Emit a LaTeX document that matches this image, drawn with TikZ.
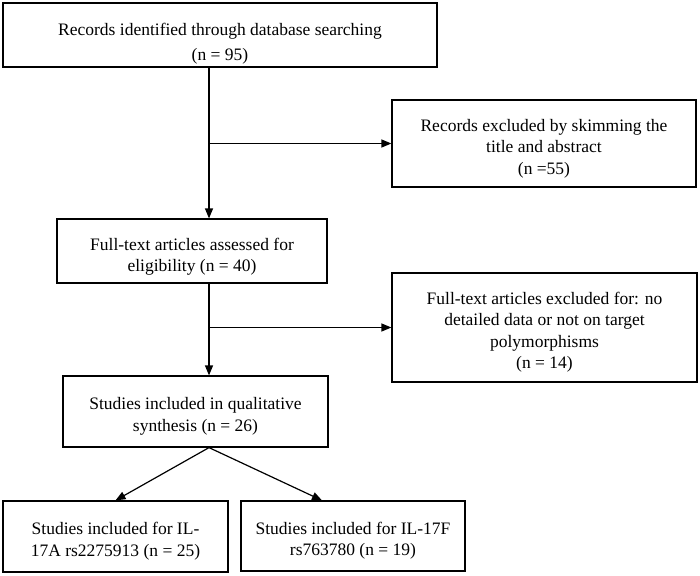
\documentclass[tikz,border=0pt]{standalone}
\usepackage{fontspec}
\setmainfont{Liberation Serif}
\usetikzlibrary{arrows.meta}
\newcommand\drop[1]{\rule{0pt}{#1}}

\begin{document}
\begin{tikzpicture}[x=1pt, y=-1pt, line width=1.2pt,
    >={Triangle[length=10pt,width=8pt]},
    box/.style={draw, align=center, inner sep=0pt, font=\fontsize{17.5}{21.5}\selectfont}]
    \useasboundingbox (0,0) rectangle (700,575);
    \coordinate (spine) at (209, 0);
    \path (220,  35) node [box, minimum width=434pt, minimum height=64pt] (records) {\drop{30pt}Records identified through database searching\\[4pt](n = 95)};
    \path (544, 143.5) node [box, minimum width=304pt, minimum height=87pt] (skimmed) {\drop{22pt}Records excluded by skimming the\\title and abstract\\(n =55)};
    \path (192, 251) node [box, minimum width=270pt, minimum height=64pt] (fulltext) {\drop{24pt}Full-text articles assessed for\\eligibility (n = 40)};
    \path (544.5, 327.5) node [box, minimum width=305pt, minimum height=109pt] (excluded) {\drop{22pt}Full-text articles excluded for: no\\detailed data or not on target\\polymorphisms\\(n = 14)};
    \path (195.5, 411.5) node [box, minimum width=265pt, minimum height=71pt] (studies) {\drop{22pt}Studies included in qualitative\\synthesis (n = 26)};
    \path (115.5, 536.5) node [box, minimum width=225pt, minimum height=71pt] (il17a) {\drop{22pt}Studies included for IL-\\17A rs2275913 (n = 25)};
    \path (353, 536) node [box, minimum width=224pt, minimum height=70pt] (il17f) {\drop{22pt}Studies included for IL-17F\\rs763780 (n = 19)};
    \draw [->] (records.south -| spine) -- (fulltext.north -| spine);
    \draw [->] (spine |- skimmed.west) -- (skimmed.west);
    \draw [->] (fulltext.south -| spine) -- (studies.north -| spine);
    \draw [->] (spine |- excluded.west) -- (excluded.west);
    \draw [->] (studies.south -| spine) -- (il17a.north);
    \draw [->] (studies.south -| spine) -- ([xshift=-31pt]il17f.north);
\end{tikzpicture}
\end{document}
